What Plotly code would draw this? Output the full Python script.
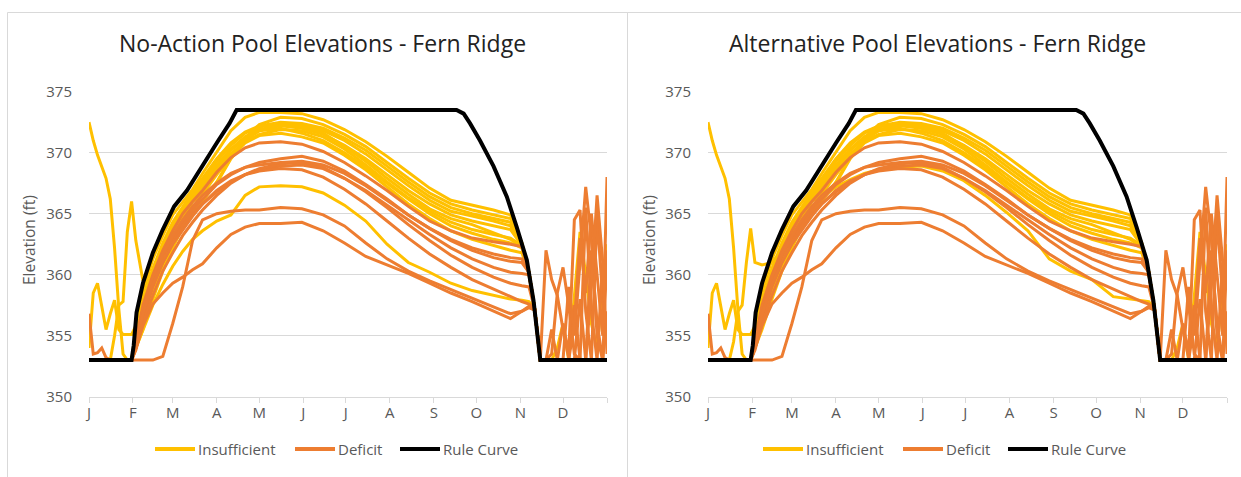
import plotly.graph_objects as go

W, H = 1241, 477
FONT = "Open Sans"

# ---------------- data ----------------
DAYS = [0, 3, 6, 9, 12, 15, 18, 21, 24, 27, 30,
        33, 38, 45, 52, 59, 66, 73, 80, 90, 100, 110, 120,
        135, 150, 165, 180, 195, 210, 225, 240, 255, 270, 285, 297, 305,
        310, 314, 318,
        322, 326, 330, 334, 338, 342, 346, 350, 354, 358, 362, 365]

MONTH_TICKS = [0, 31, 59, 90, 120, 151, 181, 212, 243, 273, 304, 334, 365]
MONTH_LABELS = ["J", "F", "M", "A", "M", "J", "J", "A", "S", "O", "N", "D", ""]
Y_TICKS = [350, 355, 360, 365, 370, 375]

RULE_DAYS = [0, 30, 31.5, 33.5, 38, 45, 52, 60, 69, 78, 90, 99, 104,
             259, 264, 268.5, 275.5, 285, 294.4, 301.4, 308.5, 313.2, 316.7, 318, 365]
RULE_ELEV = [353, 353, 354.2, 356.9, 359.3, 361.8, 363.7, 365.6, 366.9, 368.6, 370.8, 372.4, 373.5,
             373.5, 373.2, 372.4, 371.0, 368.9, 366.4, 363.9, 361.2, 357.9, 354.1, 353, 353]

INS_1 = [353]*11 + [355.5, 358.5, 361.3, 363.2, 364.9, 366.0, 367.0, 368.3, 370.0, 371.8, 372.9, 373.3,
                    373.3, 373.2, 372.7, 371.9, 370.9, 369.7, 368.4, 367.1, 366.1, 365.7, 365.3, 364.9, 362.6,
                    360.2, 357.2, 353] + [353]*12
INS_2 = [353]*11 + [355.0, 357.8, 360.5, 362.6, 364.3, 365.6, 366.8, 367.9, 369.5, 370.8, 371.7, 372.2,
                    372.5, 372.4, 372.0, 371.2, 370.2, 368.9, 367.6, 366.4, 365.5, 365.0, 364.6, 364.3, 362.5,
                    360.2, 357.2, 353] + [353]*12
INS_3 = [353]*11 + [354.5, 357.0, 359.8, 362.0, 363.8, 365.2, 366.5, 367.6, 369.0, 370.3, 371.3, 371.9,
                    372.2, 372.0, 371.5, 370.6, 369.5, 368.2, 366.9, 365.8, 364.9, 364.4, 364.0, 363.7, 362.4,
                    360.2, 357.2, 353] + [353]*12
INS_4 = [353]*11 + [354.2, 356.5, 359.2, 361.3, 363.2, 364.8, 366.2, 367.3, 368.6, 369.9, 370.9, 371.5,
                    371.9, 371.8, 371.3, 370.3, 369.0, 367.6, 366.3, 365.2, 364.3, 363.7, 363.3, 363.0, 362.4,
                    360.2, 357.2, 353] + [353]*12
INS_5 = [353]*11 + [354.0, 356.0, 358.5, 360.8, 362.7, 364.4, 366.0, 366.5, 367.5, 369.5, 371.0, 371.8,
                    372.3, 372.2, 371.6, 370.5, 369.3, 367.9, 366.6, 365.4, 364.6, 364.1, 363.4, 362.9, 362.3,
                    360.2, 357.2, 353] + [353]*12
INS_6 = [353]*11 + [354.0, 355.5, 358.0, 360.3, 362.2, 363.9, 365.3, 366.6, 368.2, 369.6, 370.8, 371.4,
                    371.6, 371.3, 370.8, 369.8, 368.6, 367.2, 365.8, 364.6, 363.6, 362.9, 362.4, 362.0, 361.8,
                    360.1, 357.2, 353,
                    353, 353, 354, 356, 353, 358, 363.5, 360, 356, 354, 359, 362.5]
INS_7 = [353]*11 + [354.0, 355.5, 357.5, 359.2, 360.7, 361.9, 362.9, 363.6, 364.4, 364.9, 366.5, 367.2,
                    367.3, 367.2, 366.7, 365.7, 364.4, 362.5, 361.0, 360.2, 359.3, 358.7, 358.3, 358.0, 357.9,
                    357.8, 357.2, 353] + [353]*12
INS_7_ALT = [353]*11 + [354.0, 356.5, 359.0, 361.0, 362.8, 364.2, 365.4, 366.3, 367.2, 367.8, 368.3, 368.6,
                        368.8, 368.9, 368.5, 367.7, 366.5, 365.1, 363.6, 361.3, 360.3, 359.6, 358.2, 358.0, 357.9,
                        357.8, 357.2, 353] + [353]*12
INS_8 = [372.5, 371.0, 369.8, 368.9, 367.9, 366.2, 362.2, 357.2, 353.5, 353, 353,
         354.8, 357.5, 360.2, 362.3, 364.0, 365.3, 366.6, 367.8, 369.3, 370.6, 371.6, 372.1,
         372.4, 372.3, 371.8, 371.0, 369.9, 368.6, 367.3, 366.1, 365.2, 364.8, 364.4, 364.0, 362.5,
         360.2, 357.2, 353] + [353]*12
INS_9 = [354.0, 358.5, 359.3, 357.5, 355.5, 356.8, 357.9, 355.5, 355.1, 355.1, 355.1,
         355.8, 357.3, 359.5, 361.6, 363.4, 364.9, 366.2, 367.3, 368.8, 370.2, 371.2, 371.8,
         372.0, 371.6, 371.0, 370.0, 368.8, 367.5, 366.2, 365.0, 364.0, 363.4, 362.9, 362.6, 362.2,
         360.1, 357.2, 353] + [353]*12
INS_10 = [353, 353, 353, 353, 353, 353, 355.0, 357.5, 357.8, 363.5, 366.0,
          362.8, 359.5, 360.2, 362.0, 363.5, 364.5, 365.2, 366.0, 367.6, 369.6, 371.2, 372.3,
          372.9, 372.8, 372.3, 371.5, 370.5, 369.2, 367.9, 366.7, 365.8, 365.3, 364.9, 364.6, 362.6,
          360.2, 357.2, 353] + [353]*12
INS_10_ALT = [353, 353, 353, 353, 353, 353, 354.5, 357.0, 357.5, 361.0, 363.8,
              361.0, 360.8, 361.0, 362.0, 363.5, 364.5, 365.2, 366.0, 367.6, 369.6, 371.2, 372.3,
              372.9, 372.8, 372.3, 371.5, 370.5, 369.2, 367.9, 366.7, 365.8, 365.3, 364.9, 364.6, 362.6,
              360.2, 357.2, 353] + [353]*12

DEF_1 = [353]*11 + [354.5, 357.5, 360.0, 362.0, 363.6, 365.0, 366.0, 366.9, 368.4, 369.6, 370.4, 370.8,
                    370.9, 370.7, 370.1, 369.2, 368.1, 366.9, 365.6, 364.4, 363.6, 363.0, 362.7, 362.5, 362.3,
                    360.2, 357.2, 353,
                    362.0, 359.6, 358.3, 355.5, 353.2, 357.5, 353, 353, 362.0, 356.0, 353, 357.0]
DEF_2 = [353]*11 + [354.3, 357.0, 359.5, 361.5, 363.0, 364.3, 365.3, 366.2, 367.4, 368.2, 368.8, 369.2,
                    369.5, 369.7, 369.3, 368.5, 367.4, 366.2, 364.9, 363.8, 362.8, 362.0, 361.4, 361.1, 361.0,
                    360.2, 357.2, 353,
                    353, 353.5, 358.5, 360.6, 357.5, 353.5, 353, 365.5, 357, 353, 361, 360]
DEF_3 = [353]*11 + [354.0, 356.5, 359.0, 361.0, 362.6, 364.0, 365.0, 365.8, 366.8, 367.6, 368.2, 368.6,
                    368.9, 369.0, 368.7, 367.9, 366.9, 365.7, 364.5, 363.3, 362.2, 361.3, 360.6, 360.2, 360.1,
                    360.0, 357.2, 353,
                    353, 353, 353, 356, 353.5, 364.5, 365.3, 357, 353, 364.8, 358, 354.5]
DEF_4 = [353]*11 + [353.8, 356.0, 358.3, 360.3, 361.8, 363.2, 364.3, 365.3, 366.5, 367.5, 368.2, 368.7,
                    369.1, 369.2, 368.8, 367.9, 366.8, 365.5, 364.1, 362.8, 361.6, 360.6, 359.8, 359.3, 359.1,
                    359.0, 357.2, 353,
                    353, 355.5, 353, 353, 359, 355, 361, 367.2, 363, 355, 353, 362]
DEF_5 = [353]*11 + [353, 353, 353, 353.3, 356.0, 359.0, 362.8, 364.5, 365.0, 365.2, 365.3, 365.3,
                    365.5, 365.4, 364.9, 364.0, 362.6, 361.3, 360.3, 359.5, 358.8, 358.1, 357.4, 356.8, 357.0,
                    357.3, 357.1, 353,
                    353, 353, 353, 353, 353, 356, 363, 358.5, 365, 360, 355, 368.0]
DEF_6 = [356.8, 353.5, 353.6, 354.0, 353.2, 353, 353, 353, 353, 353, 353,
         354.0, 355.8, 357.6, 358.5, 359.3, 359.8, 360.4, 360.9, 362.2, 363.3, 363.9, 364.2,
         364.2, 364.3, 363.6, 362.6, 361.5, 360.8, 360.1, 359.3, 358.5, 357.8, 357.0, 356.4, 357.0,
         357.4, 357.1, 353,
         353, 353, 353, 353, 353, 353, 358, 353, 359, 366.5, 361, 353.5]
DEF_7 = [353]*11 + [354.5, 357.2, 359.8, 361.7, 363.2, 364.5, 365.6, 366.5, 367.5, 368.3, 368.8, 369.0,
                    369.2, 369.3, 369.0, 368.3, 367.3, 366.1, 364.9, 363.8, 362.9, 362.2, 361.7, 361.4, 361.3,
                    360.2, 357.2, 353] + [353]*12
DEF_8 = [353]*11 + [354.0, 356.8, 359.2, 361.0, 362.5, 363.7, 364.8, 365.8, 366.9, 367.7, 368.2, 368.5,
                    368.7, 368.6, 368.0, 367.0, 365.8, 364.4, 363.0, 361.7, 360.6, 359.6, 358.8, 358.2, 357.8,
                    357.6, 357.2, 353] + [353]*12

NO_ACTION_INSUFFICIENT = [INS_1, INS_2, INS_3, INS_4, INS_5, INS_6, INS_7, INS_8, INS_9, INS_10]
ALT_INSUFFICIENT = [INS_1, INS_2, INS_3, INS_4, INS_5, INS_6, INS_7_ALT, INS_8, INS_9, INS_10_ALT]
NO_ACTION_DEFICIT = [DEF_1, DEF_2, DEF_3, DEF_4, DEF_5, DEF_6, DEF_7, DEF_8]
ALT_DEFICIT = [DEF_1, DEF_2, DEF_3, DEF_4, DEF_5, DEF_6, DEF_7, DEF_8]

for s in NO_ACTION_INSUFFICIENT + ALT_INSUFFICIENT + NO_ACTION_DEFICIT:
    assert len(s) == len(DAYS), len(s)

TITLES = ["No-Action Pool Elevations - Fern Ridge", "Alternative Pool Elevations - Fern Ridge"]
LEGEND_NAMES = ["Insufficient", "Deficit", "Rule Curve"]

# ---------------- styling ----------------
INS_COLOR = "#FFC000"
DEF_COLOR = "#ED7D31"
RULE_COLOR = "#000000"
LEGEND_COLORS = [INS_COLOR, DEF_COLOR, RULE_COLOR]
TXT = "#595959"
GRID = "#D9D9D9"

PLOT_X = [(89, 607), (708, 1227)]
PLOT_Y = (91.7, 396.7)
TITLE_X = [322, 937]
YTITLE_X = [29, 649]
LEGEND_LINE_X = [155, 295, 400]   # left panel; right panel offset below
LEGEND_OFFSET = [0, 608]
LEGEND_Y = 449


def px(x):
    return x / W


def py(y):
    return 1 - y / H


fig = go.Figure()

panels = [
    (NO_ACTION_INSUFFICIENT, NO_ACTION_DEFICIT, "x", "y"),
    (ALT_INSUFFICIENT, ALT_DEFICIT, "x2", "y2"),
]
for ins, dfc, xa, ya in panels:
    for i, s in enumerate(ins):
        fig.add_trace(go.Scatter(x=DAYS, y=s, mode="lines", name="Insufficient",
                                 line=dict(color=INS_COLOR, width=3), showlegend=False,
                                 xaxis=xa, yaxis=ya, hoverinfo="skip"))
    for i, s in enumerate(dfc):
        fig.add_trace(go.Scatter(x=DAYS, y=s, mode="lines", name="Deficit",
                                 line=dict(color=DEF_COLOR, width=3), showlegend=False,
                                 xaxis=xa, yaxis=ya, hoverinfo="skip"))
    fig.add_trace(go.Scatter(x=RULE_DAYS, y=RULE_ELEV, mode="lines", name="Rule Curve",
                             line=dict(color=RULE_COLOR, width=4), showlegend=False,
                             xaxis=xa, yaxis=ya, hoverinfo="skip"))

tickfont = dict(family=FONT, size=15, color=TXT)


def xaxis(dom, anchor):
    return dict(domain=[px(dom[0]), px(dom[1])], range=[0, 365], anchor=anchor,
                tickmode="array", tickvals=MONTH_TICKS, ticktext=MONTH_LABELS,
                showgrid=False, zeroline=False, showline=True, linecolor=GRID, linewidth=1,
                ticks="outside", ticklen=5, tickcolor=GRID, tickwidth=1,
                tickfont=tickfont, ticklabelstandoff=-3, fixedrange=True, automargin=False)


def yaxis(anchor):
    return dict(domain=[py(PLOT_Y[1]), py(PLOT_Y[0])], range=[350, 375], anchor=anchor,
                tickmode="array", tickvals=Y_TICKS, ticktext=[str(v) for v in Y_TICKS],
                showgrid=True, gridcolor=GRID, gridwidth=1, zeroline=False, showline=False,
                ticks="", tickfont=tickfont, ticklabelstandoff=16, fixedrange=True, automargin=False)


annotations = []
shapes = [
    dict(type="rect", xref="paper", yref="paper", x0=px(7.5), x1=px(627.5), y0=py(482), y1=py(12.5),
         line=dict(color=GRID, width=1), fillcolor="rgba(0,0,0,0)", layer="below"),
    dict(type="rect", xref="paper", yref="paper", x0=px(627.5), x1=px(1250), y0=py(482), y1=py(12.5),
         line=dict(color=GRID, width=1), fillcolor="rgba(0,0,0,0)", layer="below"),
]
for k in range(2):
    annotations.append(dict(text=TITLES[k], xref="paper", yref="paper", x=px(TITLE_X[k]),
                            y=py(43), xanchor="center", yanchor="middle", showarrow=False,
                            font=dict(family=FONT, size=23, color="#222222")))
    annotations.append(dict(text="Elevation (ft)", xref="paper", yref="paper", x=px(YTITLE_X[k]), y=py(240),
                            xanchor="center", yanchor="middle", showarrow=False, textangle=-90,
                            font=dict(family=FONT, size=15.5, color=TXT)))
    for name, color, lx in zip(LEGEND_NAMES, LEGEND_COLORS, LEGEND_LINE_X):
        x0 = lx + LEGEND_OFFSET[k]
        shapes.append(dict(type="line", xref="paper", yref="paper", x0=px(x0), x1=px(x0 + 40),
                           y0=py(LEGEND_Y), y1=py(LEGEND_Y), line=dict(color=color, width=4)))
        annotations.append(dict(text=name, xref="paper", yref="paper", x=px(x0 + 41), y=py(LEGEND_Y),
                                xanchor="left", yanchor="middle", showarrow=False,
                                font=dict(family=FONT, size=15, color=TXT)))

fig.update_layout(
    width=W, height=H, autosize=False,
    margin=dict(l=0, r=0, t=0, b=0, pad=0, autoexpand=False),
    paper_bgcolor="white", plot_bgcolor="white",
    xaxis=xaxis(PLOT_X[0], "y"), xaxis2=xaxis(PLOT_X[1], "y2"),
    yaxis=yaxis("x"), yaxis2=yaxis("x2"),
    showlegend=False,
    annotations=annotations, shapes=shapes,
    hovermode=False,
)

fig.write_html("out.html", config={"displayModeBar": False},
               post_script="document.body.style.margin='0';document.body.style.padding='0';")
